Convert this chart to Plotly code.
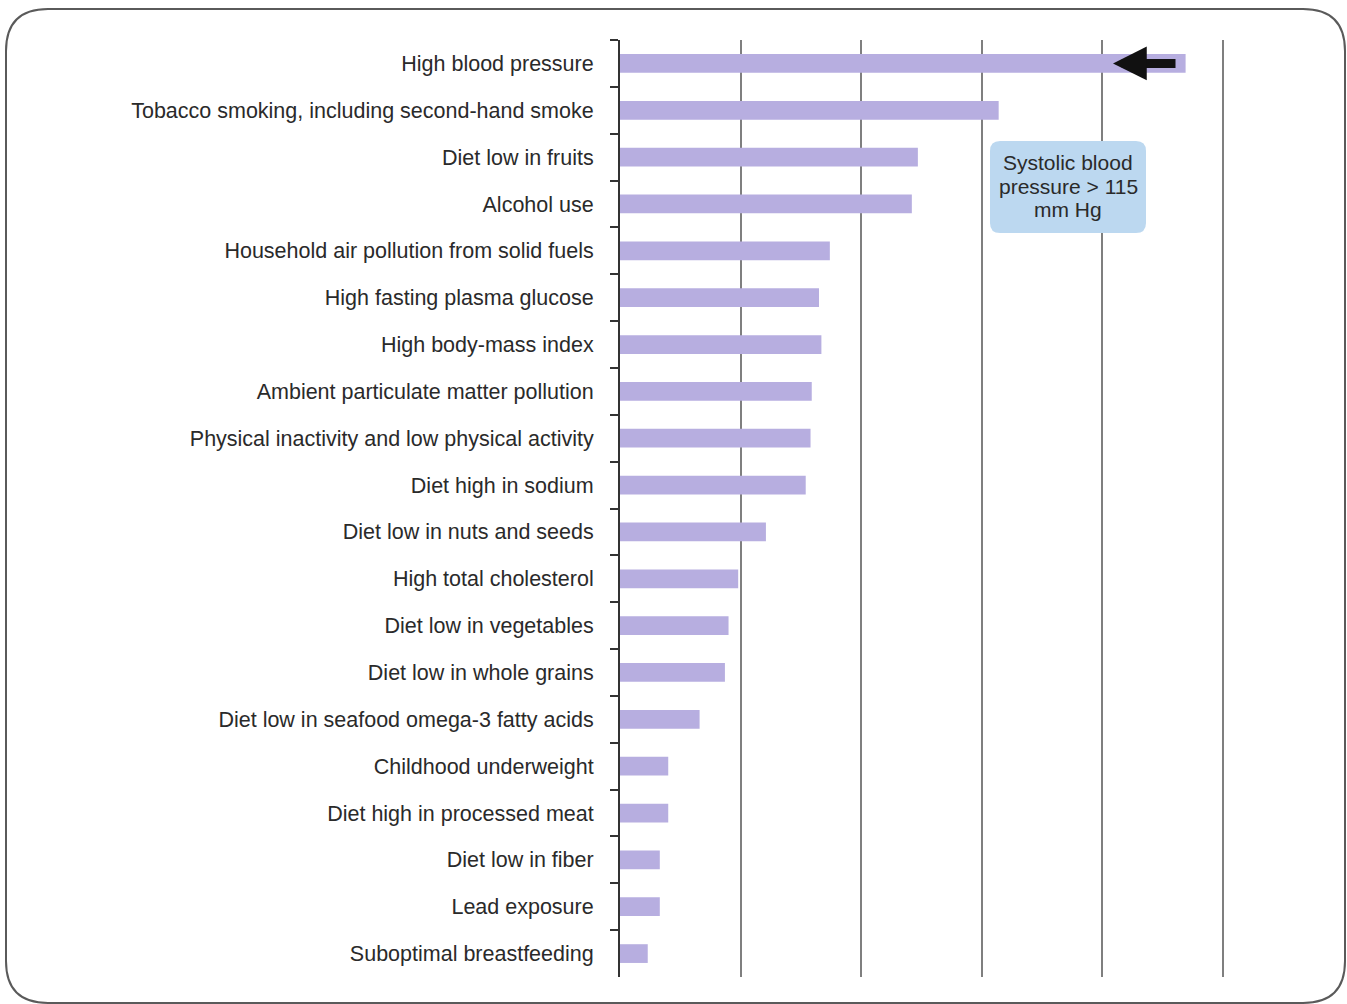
import plotly.graph_objects as go

categories = [
    "High blood pressure",
    "Tobacco smoking, including second-hand smoke",
    "Diet low in fruits",
    "Alcohol use",
    "Household air pollution from solid fuels",
    "High fasting plasma glucose",
    "High body-mass index",
    "Ambient particulate matter pollution",
    "Physical inactivity and low physical activity",
    "Diet high in sodium",
    "Diet low in nuts and seeds",
    "High total cholesterol",
    "Diet low in vegetables",
    "Diet low in whole grains",
    "Diet low in seafood omega-3 fatty acids",
    "Childhood underweight",
    "Diet high in processed meat",
    "Diet low in fiber",
    "Lead exposure",
    "Suboptimal breastfeeding",
]
values = [4.69, 3.14, 2.47, 2.42, 1.74, 1.65, 1.67, 1.59, 1.58, 1.54,
          1.21, 0.98, 0.90, 0.87, 0.66, 0.40, 0.40, 0.33, 0.33, 0.23]
callout_lines = ["Systolic blood", "pressure > 115", "mm Hg"]

W, H = 1347, 1004
L, R, T, B = 620, 1226, 40, 977
XMAX = 5.025
FONT = "Liberation Sans, Arial, Helvetica, sans-serif"

fig = go.Figure(go.Bar(
    x=values, y=categories, orientation="h",
    marker=dict(color="#b7aee0", line=dict(width=0)),
    width=0.40, hoverinfo="skip",
))

def px2x(px):
    return (px - L) / (R - L)

def py2y(py):
    return 1 - (py - T) / (B - T)

def rounded(x0, y0, x1, y1, r):
    return (f"M {px2x(x0+r)},{py2y(y0)} L {px2x(x1-r)},{py2y(y0)} "
            f"Q {px2x(x1)},{py2y(y0)} {px2x(x1)},{py2y(y0+r)} "
            f"L {px2x(x1)},{py2y(y1-r)} Q {px2x(x1)},{py2y(y1)} {px2x(x1-r)},{py2y(y1)} "
            f"L {px2x(x0+r)},{py2y(y1)} Q {px2x(x0)},{py2y(y1)} {px2x(x0)},{py2y(y1-r)} "
            f"L {px2x(x0)},{py2y(y0+r)} Q {px2x(x0)},{py2y(y0)} {px2x(x0+r)},{py2y(y0)} Z")

shapes = [
    dict(type="path", path=rounded(6, 9, 1345, 1003, 42), xref="paper", yref="paper",
         line=dict(color="#5a5a5a", width=2), fillcolor="rgba(0,0,0,0)", layer="below"),
    dict(type="path", path=rounded(990, 141, 1146, 233, 10), xref="paper", yref="paper",
         line=dict(width=0), fillcolor="#bcd8f0", layer="above"),
]

annotations = []
for i, line in enumerate(callout_lines):
    annotations.append(dict(
        x=px2x(1068), y=py2y(162 + 24 * i), xref="paper", yref="paper", text=line,
        xanchor="center", yanchor="middle", showarrow=False,
        font=dict(size=21, color="#2a2a2a", family=FONT)))
annotations.append(dict(
    x=(1113 - L) / (R - L) * XMAX, y=categories[0],
    xref="x", yref="y", ax=(1177 - L) / (R - L) * XMAX, ay=categories[0],
    axref="x", ayref="y", text="", showarrow=True,
    arrowhead=2, arrowsize=0.75, arrowwidth=9, arrowcolor="#111111"))

fig.update_layout(
    width=W, height=H,
    margin=dict(l=L, r=W - R, t=T, b=H - B),
    paper_bgcolor="white", plot_bgcolor="white",
    showlegend=False,
    shapes=shapes, annotations=annotations,
    font=dict(family=FONT, size=21.5, color="#2a2a2a"),
    xaxis=dict(range=[0, XMAX], dtick=1, showgrid=True, gridcolor="#7f7f7f", gridwidth=1.5,
               showticklabels=False, zeroline=False, showline=False, fixedrange=True),
    yaxis=dict(autorange="reversed", showline=True, linecolor="#333333", linewidth=2,
               ticks="outside", tickson="boundaries", ticklen=8, tickcolor="#333333",
               tickwidth=1.5, showgrid=False, ticklabelstandoff=20,
               tickfont=dict(size=21.5, color="#2a2a2a")),
)

fig.write_html("out.html", config={"displayModeBar": False},
               post_script="document.body.style.margin='0px';")
